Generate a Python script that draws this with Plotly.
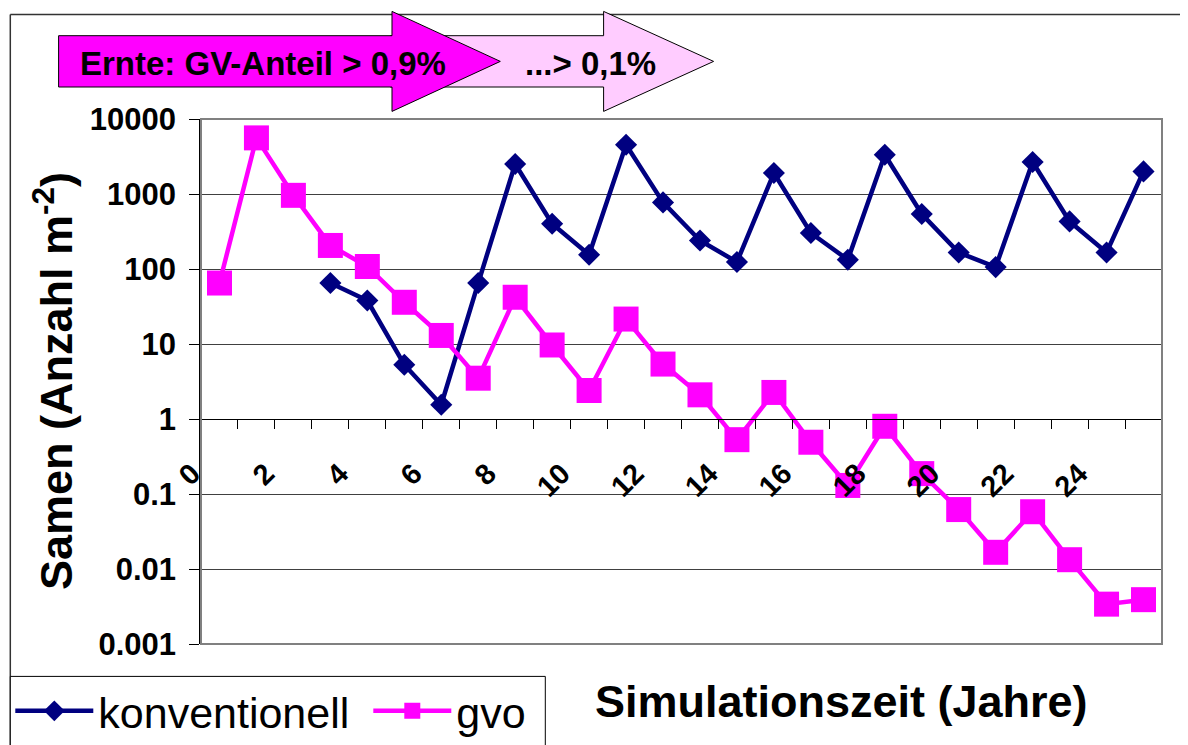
import plotly.graph_objects as go

# ---------------- data ----------------
jahr = [0.5, 1.5, 2.5, 3.5, 4.5, 5.5, 6.5, 7.5, 8.5, 9.5, 10.5, 11.5, 12.5,
        13.5, 14.5, 15.5, 16.5, 17.5, 18.5, 19.5, 20.5, 21.5, 22.5, 23.5, 24.5, 25.5]

konventionell = [None, None, None, 65, 38, 5.3, 1.55, 65, 2510, 402, 155, 4540, 773,
                 240, 124, 1905, 302, 133, 3340, 541, 166, 106, 2670, 431, 166, 2000]

gvo = [65, 5600, 960, 206, 108, 36, 13, 3.5, 42, 9.7, 2.4, 21.5, 5.4,
       2.1, 0.53, 2.26, 0.49, 0.13, 0.80, 0.187, 0.062, 0.0167, 0.058, 0.0133, 0.0034, 0.0039]

x_tick_labels = ["0", "2", "4", "6", "8", "10", "12", "14", "16", "18", "20", "22", "24"]
y_tick_vals = [0.001, 0.01, 0.1, 1, 10, 100, 1000, 10000]
y_tick_text = ["0.001", "0.01", "0.1", "1", "10", "100", "1000", "10000"]

# ---------------- geometry helpers ----------------
# page body has an 8px default margin -> figure drawn 8px smaller and offset
PAGE_W, PAGE_H, OFF = 1188, 745, 8
W, H = PAGE_W - OFF, PAGE_H - OFF
L, R, T, B = 200.7, 1161.7, 119.3, 644.3   # plot area in page pixels
FONT = "Liberation Sans, Arial, sans-serif"


def px(x):
    return (x - L) / (R - L)


def py(y):
    return (B - y) / (B - T)


def path(points):
    return "M " + " L ".join(f"{px(a):.5f},{py(b):.5f}" for a, b in points) + " Z"


# tick values (every year) with labels every 2nd year
tickvals = list(range(0, 27))
label_map = {int(t): t for t in x_tick_labels}
ticktext = [label_map.get(v, " ") for v in tickvals]

fig = go.Figure()
fig.add_trace(go.Scatter(
    x=jahr, y=konventionell, name="konventionell", mode="lines+markers",
    line=dict(color="#000080", width=4.5),
    marker=dict(symbol="diamond", size=17, color="#000080"),
    connectgaps=False,
))
fig.add_trace(go.Scatter(
    x=jahr, y=gvo, name="gvo", mode="lines+markers",
    line=dict(color="#FF00FF", width=4.5),
    marker=dict(symbol="square", size=25, color="#FF00FF"),
))

shapes = []
# outer chart frame (top and left edges)
shapes.append(dict(type="line", xref="paper", yref="paper",
                   x0=px(10), y0=py(14.7), x1=px(1195), y1=py(14.7),
                   line=dict(color="#333333", width=1.5), layer="above"))
shapes.append(dict(type="line", xref="paper", yref="paper",
                   x0=px(10), y0=py(14.7), x1=px(10), y1=py(760),
                   line=dict(color="#333333", width=1.5), layer="above"))
# legend box
shapes.append(dict(type="rect", xref="paper", yref="paper",
                   x0=px(10), y0=py(676.7), x1=px(545), y1=py(770),
                   line=dict(color="#000000", width=1), fillcolor="white", layer="above"))
# plot area border (grey)
shapes.append(dict(type="rect", xref="paper", yref="paper",
                   x0=0, y0=0, x1=1, y1=1,
                   line=dict(color="#808080", width=2), layer="above"))
# arrow 2 (light pink) drawn first
shapes.append(dict(type="path", xref="paper", yref="paper",
                   path=path([(390, 36), (603.3, 36), (603.3, 11.7), (713.3, 61.7),
                              (603.3, 111.7), (603.3, 87.3), (390, 87.3)]),
                   fillcolor="#FFCCFF", line=dict(color="#000000", width=1), layer="above"))
# arrow 1 (magenta)
shapes.append(dict(type="path", xref="paper", yref="paper",
                   path=path([(58.3, 36), (391.7, 36), (391.7, 11.7), (500, 61.7),
                              (391.7, 111.7), (391.7, 87.3), (58.3, 87.3)]),
                   fillcolor="#FF00FF", line=dict(color="#000000", width=1), layer="above"))

annotations = [
    dict(text="Ernte: GV-Anteil > 0,9%", x=px(263), y=py(64), xref="paper", yref="paper",
         showarrow=False, xanchor="center", yanchor="middle",
         font=dict(family=FONT, size=33, color="black", weight="bold")),
    dict(text="...> 0,1%", x=px(590), y=py(64), xref="paper", yref="paper",
         showarrow=False, xanchor="center", yanchor="middle",
         font=dict(family=FONT, size=33, color="black", weight="bold")),
    dict(text="Simulationszeit (Jahre)", x=px(841), y=py(702), xref="paper", yref="paper",
         showarrow=False, xanchor="center", yanchor="middle",
         font=dict(family=FONT, size=45, color="black", weight="bold")),
    dict(text="Samen (Anzahl m<sup>-2</sup>)", x=px(53), y=py(381), xref="paper", yref="paper",
         showarrow=False, xanchor="center", yanchor="middle", textangle=-90,
         font=dict(family=FONT, size=45, color="black", weight="bold")),
]

fig.update_layout(
    width=W, height=H,
    margin=dict(l=L - OFF, r=PAGE_W - R, t=T - OFF, b=PAGE_H - B, pad=0, autoexpand=False),
    paper_bgcolor="white", plot_bgcolor="white",
    font=dict(family=FONT, color="black"),
    showlegend=True,
    legend=dict(orientation="h", x=px(10), y=py(676.7), xanchor="left", yanchor="top",
                bgcolor="rgba(0,0,0,0)", borderwidth=0,
                font=dict(family=FONT, size=43, color="black"),
                itemwidth=78, entrywidth=265, entrywidthmode="pixels",
                itemclick=False, itemdoubleclick=False),
    shapes=shapes,
    annotations=annotations,
    xaxis=dict(
        range=[0, 26], anchor="free", position=3 / 7, automargin=False,
        showgrid=False, zeroline=False,
        showline=True, linecolor="black", linewidth=1.3,
        tickmode="array", tickvals=tickvals, ticktext=ticktext,
        ticks="outside", ticklen=9, tickwidth=1.3, tickcolor="black",
        tickangle=-45, ticklabelstandoff=16, ticklabelshift=-9,
        tickfont=dict(family=FONT, size=29, color="black", weight="bold"),
    ),
    yaxis=dict(
        type="log", range=[-3, 4], automargin=False,
        tickmode="array", tickvals=y_tick_vals, ticktext=y_tick_text,
        showgrid=True, gridcolor="#404040", gridwidth=1,
        zeroline=False,
        showline=True, linecolor="black", linewidth=1.5,
        ticks="outside", ticklen=10, tickwidth=1.3, tickcolor="black",
        ticklabelstandoff=7,
        tickfont=dict(family=FONT, size=31, color="black", weight="bold"),
    ),
)

fig.write_html("out.html")
